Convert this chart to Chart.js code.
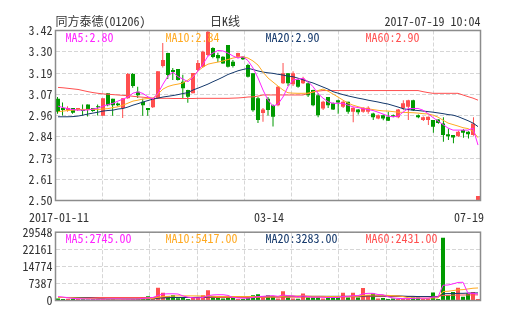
<!DOCTYPE html>
<html><head><meta charset="utf-8">
<script src="https://cdn.jsdelivr.net/npm/chart.js@4/dist/chart.umd.min.js"></script>
<style>
html,body{margin:0;padding:0;background:#fff;width:505px;height:330px;overflow:hidden}
#wrap{position:relative;width:505px;height:330px}
canvas{position:absolute;left:0}
</style></head><body><div id="wrap">
<canvas id="k" width="505" height="222" style="top:0"></canvas>
<canvas id="v" width="505" height="108" style="top:222px"></canvas>
</div>
<script>
// ---------- data ----------
const titleText = '同方泰德(01206)';
const periodText = '日K线';
const timeText = '2017-07-19 10:04';
const dateTickIndex = [0, 42, 84];
const dateTickLabels = ['2017-01-11', '03-14', '07-19'];

const opens = [3.05,3.00,2.99,3.00,2.99,2.99,3.02,3.00,3.01,2.958,
 3.08,3.05,3.025,3.00,3.053,3.184,3.088,3.035,3.00,3.005,
 3.053,3.228,3.298,3.206,3.211,3.142,3.098,3.08,3.206,3.224,
 3.287,3.325,3.287,3.278,3.341,3.251,3.278,3.278,3.233,3.188,
 3.053,2.973,3.05,3.016,3.016,3.134,3.188,3.129,3.152,3.134,
 3.134,3.098,3.07,2.998,3.06,3.026,3.043,3.007,3.034,2.98,
 2.993,2.98,2.98,2.971,2.944,2.962,2.953,2.962,2.95,3.00,
 3.007,3.043,2.962,2.935,2.935,2.935,2.939,2.917,2.859,2.854,
 2.848,2.881,2.872,2.854,2.50];
const closes = [2.98,2.99,3.00,2.975,3.00,2.985,2.99,2.985,3.005,3.053,
 3.016,3.016,3.016,3.053,3.184,3.12,3.07,3.016,2.99,3.053,
 3.20,3.26,3.179,3.195,3.152,3.107,3.061,3.19,3.244,3.305,
 3.413,3.277,3.27,3.242,3.224,3.228,3.298,3.264,3.17,2.989,
 2.935,2.993,2.99,2.953,3.115,3.188,3.134,3.188,3.116,3.16,
 3.07,3.016,2.962,3.034,3.016,2.993,3.03,3.034,2.98,3.002,
 2.978,3.002,3.002,2.95,2.962,2.944,2.931,2.955,2.993,3.026,
 3.043,2.989,2.95,2.95,2.953,2.899,2.92,2.854,2.848,2.841,
 2.872,2.866,2.859,2.917,2.525];
const highs = [3.06,3.03,3.01,3.00,3.00,3.02,3.02,3.00,3.02,3.053,
 3.08,3.05,3.03,3.053,3.19,3.19,3.115,3.05,3.00,3.053,
 3.20,3.352,3.30,3.217,3.211,3.18,3.10,3.19,3.26,3.31,
 3.42,3.33,3.30,3.28,3.341,3.26,3.30,3.28,3.24,3.19,
 3.06,3.00,3.06,3.02,3.12,3.244,3.19,3.20,3.16,3.17,
 3.14,3.10,3.08,3.04,3.06,3.03,3.045,3.04,3.035,3.005,
 2.995,3.005,3.01,2.975,2.965,2.965,2.98,2.965,2.995,3.043,
 3.045,3.045,2.965,2.955,2.955,2.935,2.94,2.95,2.89,2.855,
 2.877,2.885,2.875,2.95,2.525];
const lows = [2.97,2.96,2.98,2.97,2.985,2.96,2.955,2.98,2.96,2.958,
 3.01,2.958,3.01,2.947,3.05,3.11,3.055,2.958,2.958,3.00,
 3.05,3.22,3.157,3.152,3.15,3.054,3.029,3.08,3.20,3.22,
 3.28,3.27,3.25,3.24,3.22,3.22,3.27,3.26,3.165,2.98,
 2.92,2.926,2.96,2.90,3.01,3.13,3.12,3.12,3.11,3.13,
 3.06,3.01,2.95,2.99,3.00,2.99,2.97,3.00,2.97,2.923,
 2.965,2.975,2.97,2.935,2.94,2.934,2.93,2.95,2.945,2.989,
 2.935,2.985,2.945,2.93,2.908,2.866,2.915,2.818,2.827,2.81,
 2.845,2.839,2.835,2.85,2.50];

const ma5 = [3.011,3.003,2.997,2.992,2.989,2.989,2.990,2.995,3.000,3.011,
 3.019,3.026,3.038,3.049,3.060,3.081,3.088,3.079,3.061,3.049,
 3.081,3.130,3.173,3.195,3.170,3.157,3.143,3.168,3.201,3.238,
 3.282,3.298,3.312,3.309,3.298,3.282,3.271,3.278,3.257,3.217,
 3.163,3.098,3.043,3.011,3.022,3.060,3.116,3.152,3.157,3.161,
 3.144,3.116,3.079,3.054,3.034,3.026,3.026,3.026,3.016,3.007,
 3.003,2.997,2.992,2.987,2.978,2.968,2.957,2.953,2.956,2.978,
 2.997,2.998,2.998,2.989,2.970,2.949,2.930,2.911,2.892,2.881,
 2.881,2.881,2.881,2.892,2.800];
const ma10 = [2.980,2.984,2.987,2.989,2.992,2.993,2.993,2.993,2.993,2.995,
 2.997,3.003,3.007,3.016,3.027,3.038,3.043,3.049,3.052,3.054,
 3.076,3.103,3.117,3.125,3.130,3.136,3.152,3.173,3.201,3.222,
 3.238,3.244,3.249,3.255,3.263,3.271,3.276,3.278,3.271,3.255,
 3.233,3.195,3.163,3.141,3.119,3.098,3.083,3.081,3.080,3.080,
 3.081,3.087,3.095,3.103,3.092,3.076,3.060,3.043,3.027,3.016,
 3.008,3.000,2.996,2.992,2.988,2.985,2.984,2.981,2.978,2.977,
 2.976,2.975,2.973,2.970,2.968,2.962,2.951,2.935,2.919,2.911,
 2.903,2.894,2.889,2.875,2.840];
const ma20 = [2.953,2.953,2.953,2.954,2.957,2.962,2.968,2.973,2.978,2.984,
 2.987,2.989,2.995,2.998,3.006,3.016,3.024,3.033,3.041,3.049,
 3.054,3.060,3.064,3.068,3.073,3.079,3.084,3.098,3.108,3.119,
 3.130,3.143,3.155,3.168,3.182,3.192,3.202,3.209,3.215,3.209,
 3.201,3.195,3.191,3.188,3.183,3.179,3.173,3.170,3.162,3.153,
 3.144,3.136,3.125,3.114,3.103,3.089,3.081,3.073,3.066,3.060,
 3.054,3.049,3.043,3.038,3.033,3.027,3.022,3.014,3.006,2.997,
 2.992,2.989,2.987,2.984,2.981,2.978,2.974,2.970,2.965,2.962,
 2.954,2.943,2.932,2.919,2.900];
const ma60 = [3.112,3.110,3.107,3.104,3.101,3.095,3.089,3.084,3.080,3.077,
 3.075,3.073,3.071,3.069,3.067,3.064,3.061,3.059,3.056,3.054,
 3.053,3.053,3.053,3.052,3.052,3.052,3.052,3.052,3.053,3.053,
 3.053,3.053,3.053,3.053,3.053,3.054,3.055,3.057,3.060,3.061,
 3.065,3.071,3.071,3.071,3.071,3.071,3.071,3.071,3.071,3.071,
 3.079,3.087,3.092,3.095,3.095,3.095,3.095,3.095,3.095,3.095,
 3.095,3.095,3.095,3.095,3.095,3.095,3.095,3.095,3.095,3.095,
 3.095,3.095,3.095,3.089,3.084,3.080,3.080,3.080,3.080,3.080,
 3.080,3.071,3.062,3.054,3.043];
const maLegendValues = ['2.80', '2.84', '2.90', '2.90'];

const volumes = [850,600,800,800,600,500,400,500,500,900,
 700,600,300,500,700,700,800,1500,1800,1200,
 5500,3300,1800,2300,1000,1200,600,1200,1200,2300,
 4400,1800,1200,850,1300,1200,600,600,1200,2300,
 2700,1300,2300,1800,900,4000,1300,850,800,3000,
 1300,1300,1300,850,1300,1300,1300,3300,1300,3300,
 1300,5400,2300,3000,850,1100,600,850,600,850,
 850,1300,1300,600,850,3500,600,27200,2300,3700,
 5500,1600,3000,3700,600];
const vma5 = [1700,1500,1200,900,750,700,650,600,550,600,
 650,700,700,650,600,600,650,900,1100,1300,
 2200,2800,2900,2900,2800,2000,1400,1200,1100,1300,
 2100,2400,2500,2500,2200,1300,1100,1000,1000,1300,
 1700,1800,2000,2100,1800,2400,2100,2000,1600,2000,
 1700,1400,1500,1400,1300,1300,1300,1800,1800,2100,
 2100,2900,3100,3100,2600,2500,1600,1100,900,800,
 800,900,1000,1000,1000,1500,1500,6600,6700,7200,
 7800,7900,3100,3100,2745];
const vma10 = [1300,1300,1250,1200,1100,1000,900,800,700,650,
 600,600,600,600,600,600,650,700,800,900,
 1400,1700,1800,1900,2000,2000,2000,2000,2000,1900,
 1900,1800,1700,1700,1700,1700,1700,1700,1700,1700,
 1600,1600,1600,1600,1700,1800,1900,1900,1900,2000,
 1900,1800,1800,1800,1700,1700,1700,1800,1800,1800,
 1800,2200,2300,2400,2300,2300,2200,2100,2000,1700,
 1200,1100,1100,1000,1000,1100,1100,3900,4000,4300,
 4600,4700,5000,5300,5417];
const vma20 = [1300,1300,1300,1300,1300,1200,1100,1000,900,800,
 700,700,700,700,700,700,700,700,700,700,
 1000,1100,1200,1300,1300,1300,1300,1300,1400,1400,
 1500,1600,1700,1700,1700,1700,1700,1700,1700,1700,
 1700,1700,1700,1700,1700,1700,1800,1800,1800,1800,
 1800,1800,1800,1800,1800,1800,1800,1800,1800,1800,
 1800,1900,2000,2000,2000,2000,2000,2000,2000,1900,
 1800,1800,1700,1700,1700,1600,1600,2900,3000,3000,
 3100,3100,3200,3250,3283];
const vma60 = [1300,1300,1300,1300,1300,1300,1300,1300,1300,1300,
 1300,1300,1300,1300,1300,1300,1300,1300,1300,1300,
 1300,1300,1300,1300,1300,1300,1300,1300,1300,1300,
 1300,1300,1300,1300,1300,1300,1300,1300,1300,1300,
 1350,1350,1400,1400,1400,1400,1400,1450,1450,1450,
 1500,1500,1500,1500,1550,1550,1550,1550,1600,1600,
 1600,1650,1650,1700,1700,1700,1700,1700,1700,1700,
 1700,1700,1700,1700,1700,1750,1750,2200,2250,2300,
 2350,2380,2400,2420,2431];
const vmaLegendValues = ['2745.00', '5417.00', '3283.00', '2431.00'];

const priceTicks = [2.50, 2.615, 2.73, 2.845, 2.96, 3.075, 3.19, 3.305, 3.42];
const priceTickLabels = ['2.50','2.61','2.73','2.84','2.96','3.07','3.19','3.30','3.42'];
const volTicks = [0, 7387, 14774, 22161, 29548];
const volTickLabels = ['0','7387','14774','22161','29548'];
const maNames = ['MA5', 'MA10', 'MA20', 'MA60'];

// ---------- styles ----------
const UP = '#ff4f4f', DOWN = '#009a00';
const MA_COLORS = ['#ff22ff', '#ffaa22', '#14386b', '#ff4f4f'];
const GRID = '#d6d6d6', FRAME = '#8c8c8c', TXT = '#333333';
const FONT = "'Noto Sans Mono CJK SC','DejaVu Sans Mono',monospace";

const N = opens.length;
const labels = opens.map((_, i) => { const k = dateTickIndex.indexOf(i); return k >= 0 ? dateTickLabels[k] : ''; });
const dirColors = opens.map((o, i) => closes[i] >= o ? UP : DOWN);

const framePlugin = {
  id: 'frame',
  afterDatasetsDraw(chart) {
    const a = chart.chartArea, ctx = chart.ctx;
    ctx.save();
    ctx.strokeStyle = FRAME; ctx.lineWidth = 1.5;
    ctx.strokeRect(a.left, a.top, a.right - a.left, a.bottom - a.top);
    ctx.restore();
  }
};
const textPlugin = {
  id: 'texts',
  afterDraw(chart, args, opts) {
    const ctx = chart.ctx, a = chart.chartArea;
    ctx.save();
    ctx.font = '12px ' + FONT;
    ctx.textBaseline = 'middle';
    (opts.legend || []).forEach((t, k) => {
      ctx.fillStyle = MA_COLORS[k]; ctx.textAlign = 'left';
      ctx.fillText(t, a.left + 10 + 100 * k, a.top + 6.5);
    });
    if (opts.header) {
      ctx.fillStyle = TXT;
      ctx.textAlign = 'left'; ctx.fillText(titleText, a.left, 21);
      ctx.textAlign = 'center'; ctx.fillText(periodText, 225, 21);
      ctx.textAlign = 'right'; ctx.fillText(timeText, a.right, 21);
      const xs = chart.scales.x;
      dateTickIndex.forEach((idx, k) => {
        const px = xs.getPixelForValue(idx);
        if (k === dateTickIndex.length - 1) { ctx.textAlign = 'right'; ctx.fillText(dateTickLabels[k], px + 6, a.bottom + 16.5); }
        else { ctx.textAlign = 'center'; ctx.fillText(dateTickLabels[k], px + 1, a.bottom + 16.5); }
      });
    }
    ctx.restore();
  }
};

function lineDs(data, color) {
  return { type: 'line', data, borderColor: color, borderWidth: 1, pointRadius: 0, tension: 0, fill: false, order: 0, xAxisID: 'x', yAxisID: 'y' };
}
function gridX() {
  return { type: 'linear', min: 0, max: 8, position: 'bottom', display: true,
    ticks: { display: false, stepSize: 1 }, grid: { color: GRID, drawTicks: false, lineWidth: 1 },
    border: { display: false, dash: [4, 2] }, afterFit(s) { s.height = 0; } };
}

new Chart(document.getElementById('k'), {
  type: 'bar',
  data: {
    labels,
    datasets: [
      lineDs(ma5, MA_COLORS[0]), lineDs(ma10, MA_COLORS[1]), lineDs(ma20, MA_COLORS[2]), lineDs(ma60, MA_COLORS[3]),
      { data: highs.map((h, i) => ({ x: i, y: [lows[i], h] })), xAxisID: 'xw', backgroundColor: dirColors, barThickness: 1, grouped: false, order: 2, inflateAmount: 0 },
      { data: opens.map((o, i) => [Math.min(o, closes[i]), Math.max(o, closes[i])]), xAxisID: 'x', backgroundColor: dirColors, barThickness: 4, grouped: false, order: 1, inflateAmount: 0 }
    ]
  },
  options: {
    responsive: false, animation: false, devicePixelRatio: 1,
    layout: { padding: { top: 30.5, right: 24.5, bottom: 21.5, left: 0 } },
    plugins: { legend: { display: false }, tooltip: { enabled: false }, texts: { legend: maNames.map((n, k) => n + ':' + maLegendValues[k]), header: true } },
    scales: {
      x: { type: 'category', display: false, offset: true },
      xw: { type: 'linear', display: false, min: -0.4, max: N - 0.6, offset: false },
      xg: gridX(),
      y: { min: 2.50, max: 3.42, position: 'left',
        afterBuildTicks(s) { s.ticks = priceTicks.map(v => ({ value: v })); },
        afterFit(s) { s.width = 55.5; },
        ticks: { color: TXT, padding: 3, font: { family: FONT, size: 12 }, callback: (v, i) => priceTickLabels[i] },
        grid: { color: GRID, drawTicks: false }, border: { display: false, dash: [4, 2] } }
    }
  },
  plugins: [framePlugin, textPlugin]
});

new Chart(document.getElementById('v'), {
  type: 'bar',
  data: {
    labels,
    datasets: [
      lineDs(vma5, MA_COLORS[0]), lineDs(vma10, MA_COLORS[1]), lineDs(vma20, MA_COLORS[2]), lineDs(vma60, MA_COLORS[3]),
      { data: volumes, backgroundColor: dirColors, barThickness: 4, grouped: false, order: 1, inflateAmount: 0 }
    ]
  },
  options: {
    responsive: false, animation: false, devicePixelRatio: 1,
    layout: { padding: { top: 8.5, right: 24.5, bottom: 29.5, left: 0 } },
    plugins: { legend: { display: false }, tooltip: { enabled: false }, texts: { legend: maNames.map((n, k) => n + ':' + vmaLegendValues[k]), header: false } },
    scales: {
      x: { type: 'category', display: false, offset: true },
      xg: gridX(),
      y: { min: 0, max: 29548, position: 'left',
        afterBuildTicks(s) { s.ticks = volTicks.map(v => ({ value: v })); },
        afterFit(s) { s.width = 55.5; },
        ticks: { color: TXT, padding: 3, font: { family: FONT, size: 12 }, callback: (v, i) => volTickLabels[i] },
        grid: { color: GRID, drawTicks: false }, border: { display: false, dash: [4, 2] } }
    }
  },
  plugins: [framePlugin, textPlugin]
});
</script>
</body></html>
